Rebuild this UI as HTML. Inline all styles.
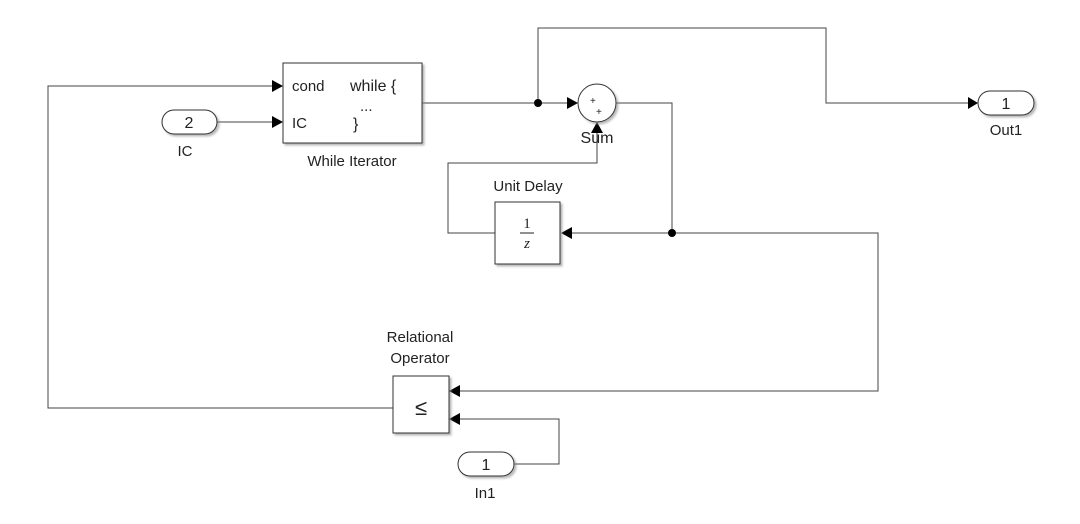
<!DOCTYPE html>
<html><head><style>body{margin:0;background:#fff}</style></head><body>
<svg width="1080" height="519" viewBox="0 0 1080 519" xmlns="http://www.w3.org/2000/svg" font-family="Liberation Sans, sans-serif">
<defs><filter id="s" x="-10%" y="-10%" width="130%" height="130%"><feDropShadow dx="2" dy="2" stdDeviation="1" flood-color="#888" flood-opacity="0.6"/></filter></defs>
<g stroke="#444" stroke-width="1" fill="none">
<polyline points="393,408 48,408 48,86 272,86"/>
<polyline points="217,122 272,122"/>
<polyline points="422,103 570,103"/>
<polyline points="538,103 538,28 826,28 826,103 968,103"/>
<polyline points="616,103 672,103 672,233 572,233"/>
<polyline points="672,233 878,233 878,391 460,391"/>
<polyline points="495,233 448,233 448,163 597,163 597,133"/>
<polyline points="514,464 559,464 559,419 460,419"/>
</g>
<g fill="#000">
<polygon points="272,80 283,86 272,92"/>
<polygon points="272,116 283,122 272,128"/>
<polygon points="567,97 578,103 567,109"/>
<polygon points="591,133 597,122 603,133"/>
<polygon points="968,97 978,103 968,109"/>
<polygon points="572,227 561,233 572,239"/>
<polygon points="460,385 449,391 460,397"/>
<polygon points="460,413 449,419 460,425"/>
<circle cx="538" cy="103" r="4"/><circle cx="672" cy="233" r="4"/>
</g>
<g fill="#fff" stroke="#333" filter="url(#s)">
<rect x="283" y="63" width="139" height="80"/>
<rect x="495" y="202" width="65" height="62"/>
<rect x="393" y="376" width="56" height="57"/>
<circle cx="597" cy="103" r="19"/>
<rect x="162" y="110" width="55" height="24" rx="12"/>
<rect x="458" y="452" width="56" height="24" rx="12"/>
<rect x="978" y="91" width="56" height="24" rx="12"/>
</g>
<g font-size="15" fill="#222">
<text x="292" y="91">cond</text><text x="350" y="91" font-size="16">while {</text>
<text x="360" y="111">...</text>
<text x="292" y="128">IC</text><text x="353" y="129" font-size="16">}</text>
<text x="352" y="166" text-anchor="middle">While Iterator</text>
<text x="189" y="128" text-anchor="middle" font-size="16">2</text>
<text x="185" y="156" text-anchor="middle">IC</text>
<text x="486" y="470" text-anchor="middle" font-size="16">1</text>
<text x="485" y="498" text-anchor="middle">In1</text>
<text x="1006" y="109" text-anchor="middle" font-size="16">1</text>
<text x="1006" y="135" text-anchor="middle">Out1</text>
<text x="597" y="143" text-anchor="middle" font-size="16">Sum</text>
<text x="528" y="191" text-anchor="middle">Unit Delay</text>
<text x="420" y="342" text-anchor="middle">Relational</text>
<text x="420" y="363" text-anchor="middle">Operator</text>
<text x="421" y="415" text-anchor="middle" font-size="22">≤</text>
<text x="590" y="104" font-size="10">+</text><text x="596" y="115" font-size="10">+</text>
<text x="527" y="228" text-anchor="middle" font-family="Liberation Serif, serif" font-size="15">1</text>
<line x1="520" y1="233" x2="534" y2="233" stroke="#222"/>
<text x="527" y="248" text-anchor="middle" font-family="Liberation Serif, serif" font-style="italic" font-size="15">z</text>
</g>
</svg>
</body></html>
